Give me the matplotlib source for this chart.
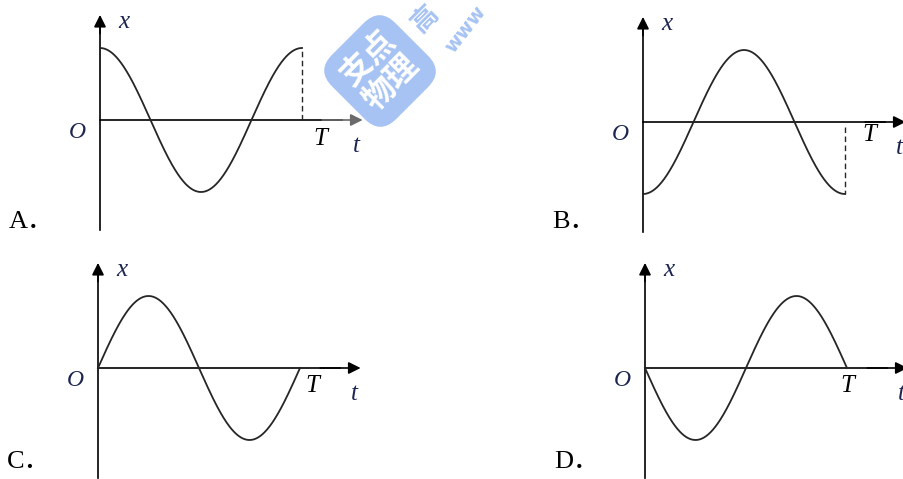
import numpy as np
import matplotlib.pyplot as plt

# 四つの選択肢（A〜D）: 波形の種類と符号
options = ["A．", "B．", "C．", "D．"]
wave_func = ["cos", "cos", "sin", "sin"]
wave_sign = [1, -1, 1, -1]
dashed_end = [True, True, False, False]

# レイアウト（ピクセル）
W, H = 904, 479
origins_px = [(100, 120), (643, 122), (98, 368), (645, 368)]
period_px = 202
amp_px = 72
T_label_pos = [(1.09, -0.27), (1.12, -0.18), (1.06, -0.25), (1.00, -0.25)]
letter_y = [-1.42, -1.39, -1.31, -1.31]
arrow_col = ["#6a6a6a", "black", "black", "black"]

serif = ["Liberation Serif", "DejaVu Serif"]
navy = "#1c2550"
curve_col = "#262626"

fig = plt.figure(figsize=(W / 100, H / 100), dpi=100)

tt = np.linspace(0, 1, 400)
for i, (ox, oy) in enumerate(origins_px):
    ax = fig.add_axes([(ox - 100) / W, 1 - (oy + 115) / H, 365 / W, 235 / H])
    ax.set_xlim(-100 / period_px, 265 / period_px)
    ax.set_ylim(-115 / amp_px, 120 / amp_px)
    ax.axis("off")

    # 座標軸
    ax.plot([0, 0], [-1.53, 1.3], color="black", lw=1.2, clip_on=False)
    ax.annotate("", xy=(0, 1.46), xytext=(0, 1.2),
                arrowprops=dict(arrowstyle="-|>", color="black", lw=1.2,
                                mutation_scale=18, shrinkA=0, shrinkB=0),
                annotation_clip=False)
    ax.plot([0, 1.2], [0, 0], color="black", lw=1.2, clip_on=False)
    ax.annotate("", xy=(1.30, 0), xytext=(1.1, 0),
                arrowprops=dict(arrowstyle="-|>", color=arrow_col[i], lw=1.2,
                                mutation_scale=18, shrinkA=0, shrinkB=0),
                annotation_clip=False)

    # 波形
    if wave_func[i] == "cos":
        xx = wave_sign[i] * np.cos(2 * np.pi * tt)
    else:
        xx = wave_sign[i] * np.sin(2 * np.pi * tt)
    ax.plot(tt, xx, color=curve_col, lw=1.3, clip_on=False)

    if dashed_end[i]:
        y0 = 0 if wave_sign[i] > 0 else -0.07
        ax.plot([1, 1], [y0, xx[-1]], color=curve_col, lw=1.0,
                ls=(0, (4, 2.5)), clip_on=False)

    # ラベル
    ax.text(0.12, 1.36, "x", family=serif, style="italic", fontsize=18,
            color=navy, ha="center", va="center")
    ax.text(-0.11, -0.17, "O", family=serif, style="italic", fontsize=17,
            color=navy, ha="center", va="center")
    ax.text(T_label_pos[i][0], T_label_pos[i][1], "T", family=serif,
            style="italic", fontsize=18, color="black", ha="center", va="center")
    ax.text(1.27, -0.36, "t", family=serif, style="italic", fontsize=18,
            color=navy, ha="center", va="center")
    ax.text(-0.45, letter_y[i], options[i],
            family=["Liberation Serif", "Noto Sans CJK SC"], fontsize=19,
            color="black", ha="left", va="center")

# 透かし
wm = "#a6c3f3"
fig.text(380 / W, 1 - 71 / H, "支点\n物理", family=["Noto Sans CJK SC"],
         fontweight="bold", fontsize=23, color="white", rotation=45,
         ha="center", va="center", linespacing=1.05,
         bbox=dict(boxstyle="round,pad=0.4,rounding_size=0.7",
                   fc=wm, ec="none"))
fig.text(425 / W, 1 - 19 / H, "高", family=["Noto Sans CJK SC"],
         fontweight="bold", fontsize=19, color=wm, rotation=45,
         ha="center", va="center")
fig.text(466 / W, 1 - 29 / H, "www", family=["DejaVu Sans"],
         fontweight="bold", fontsize=14, color=wm, rotation=52,
         ha="center", va="center")

fig.savefig("out.png", dpi=100)
